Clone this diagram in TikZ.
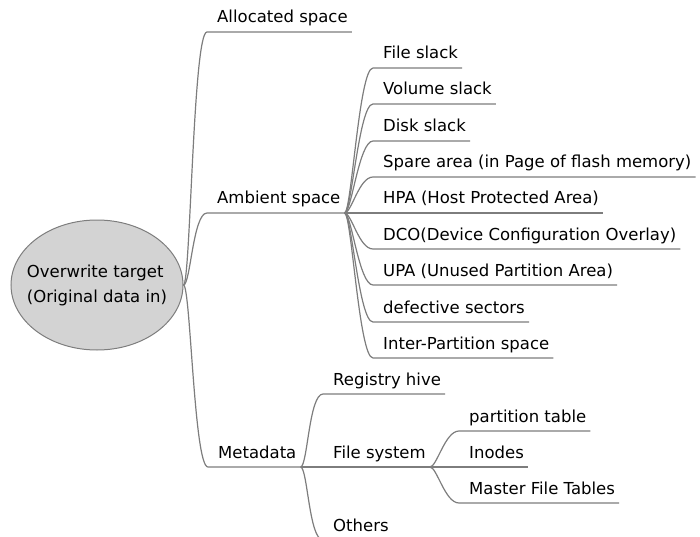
\documentclass[tikz,border=0pt]{standalone}
\usepackage{fontspec}
\setmainfont{DejaVu Sans}
\usetikzlibrary{shapes.geometric}
\definecolor{linegray}{RGB}{125,125,125}
\definecolor{rootfill}{RGB}{211,211,211}
\tikzset{
  topic/.style={anchor=base west, inner sep=0pt, font=\fontsize{16.5}{20}\selectfont},
  link/.style={draw=linegray, line width=1.2pt},
}
\begin{document}
\begin{tikzpicture}[x=1pt,y=-1pt]
\useasboundingbox (0,0) rectangle (700,537);
\clip (0,0) rectangle (700,537);
% central topic
\node[ellipse, draw=linegray, fill=rootfill, line width=1pt, inner sep=0pt,
  minimum width=172pt, minimum height=130pt] (root) at (97,285) {};
\node[align=left, inner sep=0pt, font=\fontsize{16.5}{25}\selectfont] (roottext) at (root.center) {Overwrite target\\(Original data in)};
\coordinate (root-r) at (root.east);
% first level
\node[topic] (alloc) at (217,23) {Allocated space};
\node[topic] (ambient) at (217,204) {Ambient space};
\node[topic] (meta) at (218,458) {Metadata};
% ambient space
\node[topic] (fslack) at (383,59) {File slack};
\node[topic] (vslack) at (383,95) {Volume slack};
\node[topic] (dslack) at (383,132) {Disk slack};
\node[topic] (spare) at (383,168) {Spare area (in Page of flash memory)};
\node[topic] (hpa) at (383,204) {HPA (Host Protected Area)};
\node[topic] (dco) at (383,240) {DCO(Device Configuration Overlay)};
\node[topic] (upa) at (383,276) {UPA (Unused Partition Area)};
\node[topic] (defect) at (383,313) {defective sectors};
\node[topic] (inter) at (383,349) {Inter-Partition space};
% metadata
\node[topic] (registry) at (333,385) {Registry hive};
\node[topic] (fsys) at (333,458) {File system};
\node[topic] (others) at (333,531) {Others};
% file system
\node[topic] (ptable) at (469,422) {partition table};
\node[topic] (inodes) at (469,458) {Inodes};
\node[topic] (mft) at (469,494) {Master File Tables};
% underline ends
\foreach \n in {alloc,ambient,meta,fslack,vslack,dslack,spare,hpa,dco,upa,defect,inter,registry,fsys,others,ptable,inodes,mft} {
  \coordinate (\n-l) at ([shift={(-10pt,-9pt)}]\n.base west);
  \coordinate (\n-r) at ([shift={(4pt,-9pt)}]\n.base east);
}
% branches
\foreach \p/\c in {root/alloc,root/ambient,root/meta,
  ambient/fslack,ambient/vslack,ambient/dslack,ambient/spare,ambient/hpa,
  ambient/dco,ambient/upa,ambient/defect,ambient/inter,
  meta/registry,meta/fsys,meta/others,
  fsys/ptable,fsys/inodes,fsys/mft}
  \draw[link] (\p-r) .. controls +(7,0) and +(-14,0) .. (\c-l) -- (\c-r);
\end{tikzpicture}
\end{document}
